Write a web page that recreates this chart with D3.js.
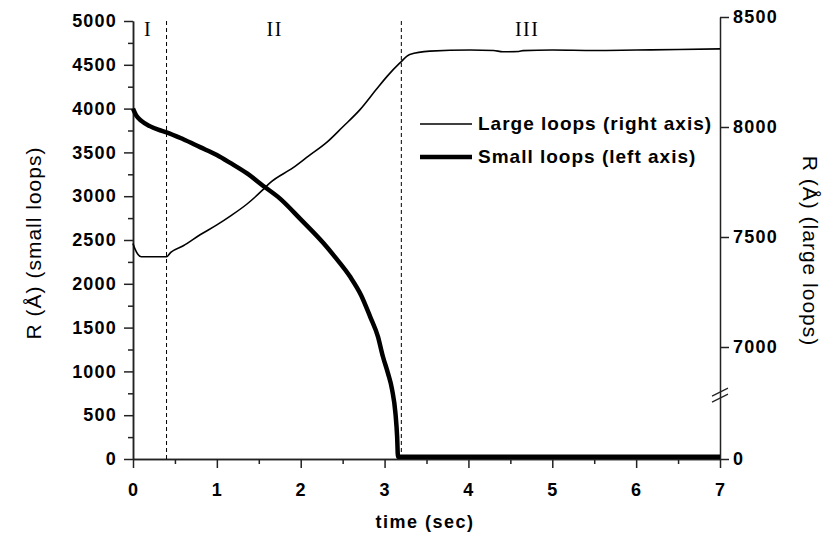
<!DOCTYPE html>
<html>
<head>
<meta charset="utf-8">
<script src="https://cdn.jsdelivr.net/npm/d3@7"></script>
<style>
  body { margin: 0; background: #fff; }
  svg { display: block; }
  text { font-family: "Liberation Sans", Arial, sans-serif; fill: #000; }
</style>
</head>
<body>
<svg id="svg" width="834" height="536"></svg>
<script>
// small loops, left axis (time in sec, radius in Angstrom)
var smallTime   = [0, 0.04, 0.1, 0.2, 0.3, 0.4, 0.6, 0.8, 1.0, 1.16, 1.36, 1.55, 1.75, 2.0, 2.27, 2.41, 2.59, 2.72, 2.83, 2.92, 2.98, 3.04, 3.09, 3.13, 3.15, 3.16, 7.0];
var smallRadius = [4000, 3920, 3860, 3800, 3760, 3730, 3650, 3560, 3470, 3380, 3260, 3120, 2975, 2735, 2465, 2305, 2080, 1870, 1620, 1400, 1170, 980, 790, 520, 250, 25, 25];

// large loops, right axis
var largeTime   = [0, 0.03, 0.06, 0.1, 0.4, 0.45, 0.6, 0.8, 1.0, 1.16, 1.36, 1.55, 1.63, 1.91, 2.1, 2.31, 2.5, 2.71, 2.9, 3.03, 3.18, 3.3, 3.54, 4.02, 4.3, 4.41, 4.6, 4.65, 5.0, 5.5, 6.0, 6.5, 7.0];
var largeRadius = [7470, 7440, 7420, 7410, 7410, 7430, 7460, 7510, 7555, 7595, 7650, 7715, 7745, 7815, 7870, 7930, 8000, 8080, 8170, 8230, 8290, 8330, 8345, 8350, 8348, 8342, 8343, 8347, 8350, 8348, 8350, 8352, 8355];

var leftTicks  = [0, 500, 1000, 1500, 2000, 2500, 3000, 3500, 4000, 4500, 5000];
var leftMinor  = [250, 750, 1250, 1750, 2250, 2750, 3250, 3750, 4250, 4750];
var rightTicks = [0, 7000, 7500, 8000, 8500];
var timeTicks  = [0, 1, 2, 3, 4, 5, 6, 7];
var timeMinor  = [0.5, 1.5, 2.5, 3.5, 4.5, 5.5, 6.5];

var stageBounds = [0.4, 3.2];
var stageNames  = ["I", "II", "III"];
var stageTime   = [0.18, 1.69, 4.7];

var legendNames = ["Large loops (right axis)", "Small loops (left axis)"];

var svg = d3.select("svg");

var x = d3.scaleLinear().domain([0, 7]).range([133, 720]);
var yLeft = d3.scaleLinear().domain([0, 5000]).range([459, 21]);
// broken right axis: 0..7000 squeezed into the bottom part
var yRight = d3.scaleLinear().domain([0, 7000, 8500]).range([459, 347, 17]);

var fmt = d3.format("d");

function styleAxis(g) {
    g.attr("font-family", null).attr("font-size", null);
    g.select(".domain").attr("stroke", "#222").attr("stroke-width", 1.5);
    g.selectAll(".tick line").attr("stroke", "#222").attr("stroke-width", 1.5);
    g.selectAll(".tick text")
        .style("font-size", "18px")
        .style("font-weight", "bold")
        .style("letter-spacing", "1.2px")
        .style("fill", "#000");
}

// minor ticks first
svg.append("g")
    .attr("transform", "translate(133,0)")
    .call(d3.axisLeft(yLeft).tickValues(leftMinor).tickSize(5).tickSizeOuter(0).tickFormat(""))
    .call(styleAxis);
svg.append("g")
    .attr("transform", "translate(0,459)")
    .call(d3.axisBottom(x).tickValues(timeMinor).tickSize(5).tickSizeOuter(0).tickFormat(""))
    .call(styleAxis);

// left axis
svg.append("g")
    .attr("transform", "translate(133,0)")
    .call(d3.axisLeft(yLeft).tickValues(leftTicks).tickSize(9).tickSizeOuter(0).tickPadding(7).tickFormat(fmt))
    .call(styleAxis);

// bottom axis
svg.append("g")
    .attr("transform", "translate(0,459)")
    .call(d3.axisBottom(x).tickValues(timeTicks).tickSize(9).tickSizeOuter(0).tickPadding(15).tickFormat(fmt))
    .call(styleAxis);

// right axis
svg.append("g")
    .attr("transform", "translate(720,0)")
    .call(d3.axisRight(yRight).tickValues(rightTicks).tickSize(9).tickSizeOuter(0).tickPadding(4).tickFormat(fmt))
    .call(styleAxis);

// axis break marks
var breakY = yRight(7000) + 0.43 * (yRight(0) - yRight(7000));
[-3, 3].forEach(function (off) {
    svg.append("line")
        .attr("x1", 712).attr("y1", breakY + off + 4)
        .attr("x2", 728).attr("y2", breakY + off - 4)
        .attr("stroke", "#222")
        .attr("stroke-width", 1.2);
});

// stage boundaries
svg.selectAll(".stage-line")
    .data(stageBounds)
    .enter().append("line")
    .attr("class", "stage-line")
    .attr("x1", function (d) { return x(d); })
    .attr("x2", function (d) { return x(d); })
    .attr("y1", yLeft(5000))
    .attr("y2", yLeft(0))
    .attr("stroke", "#000")
    .attr("stroke-width", 1)
    .attr("stroke-dasharray", "4,3");

svg.selectAll(".stage-name")
    .data(stageNames)
    .enter().append("text")
    .attr("class", "stage-name")
    .attr("x", function (d, i) { return x(stageTime[i]); })
    .attr("y", 36)
    .attr("text-anchor", "middle")
    .style("font-family", "'Liberation Serif', 'Times New Roman', serif")
    .style("font-size", "20px")
    .style("letter-spacing", "1.5px")
    .text(function (d) { return d; });

// curves
var largeLine = d3.line()
    .curve(d3.curveMonotoneX)
    .x(function (d) { return x(d[0]); })
    .y(function (d) { return yRight(d[1]); });

var smallLine = d3.line()
    .curve(d3.curveMonotoneX)
    .x(function (d) { return x(d[0]); })
    .y(function (d) { return yLeft(d[1]); });

svg.append("path")
    .datum(d3.zip(largeTime, largeRadius))
    .attr("fill", "none")
    .attr("stroke", "#000")
    .attr("stroke-width", 1.6)
    .attr("stroke-linejoin", "round")
    .attr("d", largeLine);

svg.append("path")
    .datum(d3.zip(smallTime, smallRadius))
    .attr("fill", "none")
    .attr("stroke", "#000")
    .attr("stroke-width", 4.5)
    .attr("stroke-linejoin", "round")
    .attr("d", smallLine);

// legend
var legend = svg.selectAll(".legend")
    .data(legendNames)
    .enter().append("g")
    .attr("class", "legend")
    .attr("transform", function (d, i) { return "translate(420," + (124 + i * 33) + ")"; });

legend.append("line")
    .attr("x1", 0).attr("x2", 52)
    .attr("stroke", "#000")
    .attr("stroke-width", function (d, i) { return i === 0 ? 1.6 : 4.5; });

legend.append("text")
    .attr("x", 58)
    .attr("y", 6)
    .style("font-size", "19px")
    .style("font-weight", "bold")
    .style("letter-spacing", "1px")
    .text(function (d) { return d; });

// axis titles
svg.append("text")
    .attr("transform", "translate(41,243) rotate(-90)")
    .attr("text-anchor", "middle")
    .style("font-size", "21px")
    .style("letter-spacing", "1px")
    .text("R (Å) (small loops)");

svg.append("text")
    .attr("transform", "translate(803,251) rotate(90)")
    .attr("text-anchor", "middle")
    .style("font-size", "21px")
    .style("letter-spacing", "1px")
    .text("R (Å) (large loops)");

svg.append("text")
    .attr("x", 425)
    .attr("y", 528)
    .attr("text-anchor", "middle")
    .style("font-size", "18px")
    .style("font-weight", "bold")
    .style("letter-spacing", "1.5px")
    .text("time (sec)");
</script>
</body>
</html>
